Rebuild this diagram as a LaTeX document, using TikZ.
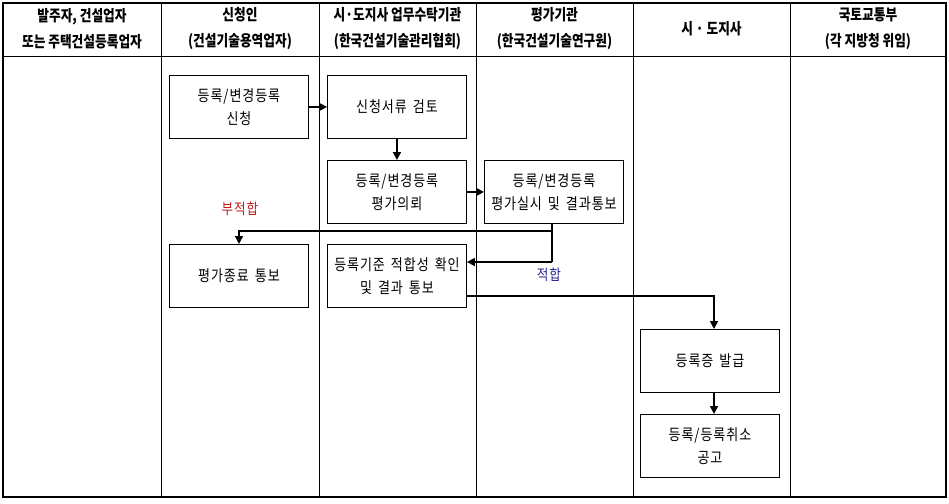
\documentclass[tikz,border=0pt]{standalone}
\usepackage{fontspec}
\setmainfont{Noto Sans CJK KR}
\usetikzlibrary{arrows.meta}
\newcommand\mywidesp{\spaceskip=6pt\relax}
\begin{document}
\begin{tikzpicture}[x=1pt,y=-1pt,
  stepbox/.style={draw,line width=0.9pt,minimum width=139pt,minimum height=63pt,inner sep=0pt,align=center,font=\fontsize{15.5}{23}\selectfont\addfontfeatures{FakeStretch=0.84,LetterSpace=6}\mywidesp,anchor=north west},
  head/.style={align=center,font=\fontsize{15.5}{26}\selectfont\bfseries\addfontfeatures{FakeStretch=0.82}},
  lbl/.style={font=\fontsize{15}{16}\selectfont\addfontfeatures{FakeStretch=0.84,LetterSpace=6}},
  arr/.style={line width=1.6pt,-{Triangle[length=8pt,width=8pt]}},
  grid/.style={line width=0.8pt}]
\useasboundingbox (0,0) rectangle (949,503);
% table
\draw[line width=1.6pt] (3,3) rectangle (946,497);
\foreach \x in {161,319,476,633,790} \draw[grid] (\x,3) -- (\x,497);
\draw[grid] (3,56) -- (946,56);
% headers
\node[head] (h1) at (82,29) {발주자, 건설업자\\또는 주택건설등록업자};
\node[head] (h2) at (240,29) {신청인\\(건설기술용역업자)};
\node[head] (h3) at (397.5,29) {시·도지사 업무수탁기관\\(한국건설기술관리협회)};
\node[head] (h4) at (554.5,29) {평가기관\\(한국건설기술연구원)};
\node[head] (h5) at (711.5,29) {시 · 도지사};
\node[head] (h6) at (868,29) {국토교통부\\(각 지방청 위임)};
% boxes
\node[stepbox] (a) at (169,75) {등록/변경등록\\신청};
\node[stepbox] (b) at (327,75) {신청서류 검토};
\node[stepbox] (c) at (327,160) {등록/변경등록\\평가의뢰};
\node[stepbox] (d) at (484,160) {등록/변경등록\\평가실시 및 결과통보};
\node[stepbox] (e) at (169,244) {평가종료 통보};
\node[stepbox] (f) at (327,244) {등록기준 적합성 확인\\및 결과 통보};
\node[stepbox] (g) at (640,329) {등록증 발급};
\node[stepbox] (h) at (640,414) {등록/등록취소\\공고};
% connectors
\draw[arr] (a.east) -- (b.west);
\draw[arr] (b.south) -- (c.north);
\draw[arr] (c.east) -- (d.west);
\coordinate (d1) at (552,231);
\coordinate (d2) at (552,262);
\draw[line width=1.6pt] (d.south -| d1) -- (d2);
\draw[arr] (d1) -- (239,231) -- (e.north -| 239,0);
\draw[arr] (d2) -- (f.east |- d2);
\coordinate (f1) at (714,296);
\draw[arr] (f.east |- f1) -- (f1) -- (f1 |- g.north);
\draw[arr] (g.south -| f1) -- (h.north -| f1);
% labels
\node[lbl,text={rgb,255:red,190;green,30;blue,30}] (l1) at (240,209) {부적합};
\node[lbl,text={rgb,255:red,40;green,40;blue,150}] (l2) at (549,275) {적합};
\end{tikzpicture}
\end{document}
